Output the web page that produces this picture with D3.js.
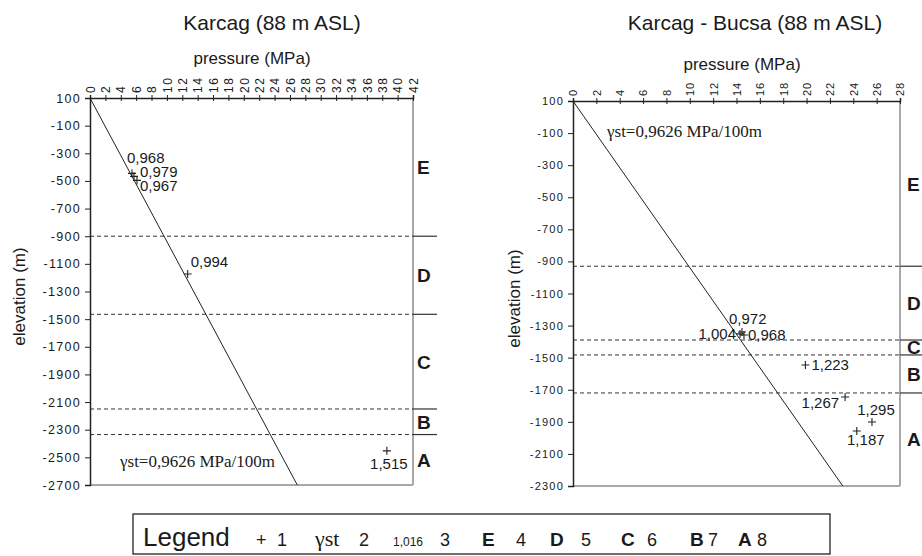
<!DOCTYPE html>
<html>
<head>
<meta charset="utf-8">
<script src="https://cdn.jsdelivr.net/npm/d3@7/dist/d3.min.js"></script>
<style>
  body { margin: 0; background: #fff; }
  text { font-family: Arial, "Liberation Sans", sans-serif; fill: #1a1a1a; }
</style>
</head>
<body>
<svg id="chart" width="922" height="556"></svg>
<script>
// ---- data ----
const gradient = 0.9626; // MPa / 100 m

const leftTitle = "Karcag (88 m ASL)";
const leftPressureMax = 42;
const leftElevTop = 100, leftElevBottom = -2700;
const leftBounds = [-900, -1465, -2150, -2335];
const leftZones = ["E", "D", "C", "B", "A"];
const leftPoints = [
  { p: 5.46, e: -445, label: "0,968" },
  { p: 5.72, e: -467, label: "0,979" },
  { p: 6.11, e: -496, label: "0,967" },
  { p: 12.7, e: -1173, label: "0,994" },
  { p: 38.6, e: -2453, label: "1,515" }
];

const rightTitle = "Karcag - Bucsa (88 m ASL)";
const rightPressureMax = 28;
const rightElevTop = 100, rightElevBottom = -2300;
const rightBounds = [-930, -1390, -1483, -1720];
const rightZones = ["E", "D", "C", "B", "A"];
const rightPoints = [
  { p: 14.3, e: -1352, label: "1,004" },
  { p: 14.47, e: -1340, label: "0,972" },
  { p: 14.64, e: -1359, label: "0,968" },
  { p: 19.9, e: -1546, label: "1,223" },
  { p: 23.3, e: -1745, label: "1,267" },
  { p: 25.6, e: -1901, label: "1,295" },
  { p: 24.3, e: -1957, label: "1,187" }
];

const legendSymbols = ["+", "γst", "1,016", "E", "D", "C", "B", "A"];
const legendNumbers = ["1", "2", "3", "4", "5", "6", "7", "8"];

// ---- label placement (layout only) ----
const leftLabelPos = [
  { dx: -5, dy: -10, anchor: "start" },
  { dx: 6, dy: 1, anchor: "start" },
  { dx: 3, dy: 11, anchor: "start" },
  { dx: 3, dy: -7, anchor: "start" },
  { dx: 2, dy: 18, anchor: "middle" }
];
const rightLabelPos = [
  { dx: -4, dy: 5, anchor: "end" },
  { dx: -13, dy: -8, anchor: "start" },
  { dx: 4, dy: 5, anchor: "start" },
  { dx: 6, dy: 5, anchor: "start" },
  { dx: -6, dy: 11, anchor: "end" },
  { dx: 4, dy: -7, anchor: "middle" },
  { dx: 9, dy: 14, anchor: "middle" }
];

const svg = d3.select("#chart");

function drawPanel(cfg) {
  const x = d3.scaleLinear().domain([0, cfg.pMax]).range(cfg.xr);
  const y = d3.scaleLinear().domain([cfg.eTop, cfg.eBottom]).range(cfg.yr);
  const g = svg.append("g");

  // titles
  g.append("text").attr("x", cfg.titleX).attr("y", 30)
    .attr("text-anchor", "middle").style("font-size", "21px").text(cfg.title);
  g.append("text").attr("x", cfg.pLabelX).attr("y", cfg.pLabelY)
    .attr("text-anchor", "middle").style("font-size", "17px").text("pressure (MPa)");
  g.append("text")
    .attr("transform", `translate(${cfg.eLabelX},${(cfg.yr[0] + cfg.yr[1]) / 2 + 5}) rotate(-90)`)
    .attr("text-anchor", "middle").style("font-size", "17px").text("elevation (m)");

  // frame (right + bottom in grey)
  g.append("line").attr("x1", cfg.xr[1]).attr("x2", cfg.xr[1])
    .attr("y1", cfg.yr[0]).attr("y2", cfg.yr[1])
    .attr("stroke", "#a8a8a8").attr("stroke-width", 2);
  g.append("line").attr("x1", cfg.xr[0]).attr("x2", cfg.xr[1])
    .attr("y1", cfg.yr[1]).attr("y2", cfg.yr[1])
    .attr("stroke", "#a8a8a8").attr("stroke-width", 2);

  // zone boundaries: dashed inside, solid outside the frame
  cfg.bounds.forEach(b => {
    g.append("line").attr("x1", cfg.xr[0]).attr("x2", cfg.xr[1])
      .attr("y1", y(b)).attr("y2", y(b))
      .attr("stroke", "#333").attr("stroke-width", 1).attr("stroke-dasharray", "4,3");
    g.append("line").attr("x1", cfg.xr[1]).attr("x2", cfg.zoneEnd)
      .attr("y1", y(b)).attr("y2", y(b))
      .attr("stroke", "#333").attr("stroke-width", 1.2);
  });

  // zone letters centred between boundaries
  const edges = [cfg.eTop, ...cfg.bounds, cfg.eBottom];
  cfg.zones.forEach((z, i) => {
    const ym = (y(edges[i]) + y(edges[i + 1])) / 2;
    g.append("text").attr("x", cfg.xr[1] + cfg.zoneDx).attr("y", ym + 7)
      .style("font-size", "19px").style("font-weight", "bold").text(z);
  });

  // gradient line
  const line = d3.line().x(d => x(d.p)).y(d => y(d.e));
  const gLine = [
    { e: cfg.eTop, p: 0 },
    { e: cfg.eBottom, p: gradient * (cfg.eTop - cfg.eBottom) / 100 }
  ];
  g.append("path").datum(gLine).attr("d", line)
    .attr("fill", "none").attr("stroke", "#222").attr("stroke-width", 1);

  g.append("text").attr("x", cfg.gLabel[0]).attr("y", cfg.gLabel[1])
    .style("font-family", "'Liberation Serif', 'Times New Roman', serif")
    .style("font-size", "17px").text("γst=0,9626 MPa/100m");

  // top axis
  const xAxis = d3.axisTop(x).tickValues(d3.range(0, cfg.pMax + 1, 2))
    .tickSize(3).tickFormat(d3.format("d"));
  const ax = g.append("g").attr("transform", `translate(0,${cfg.yr[0]})`).call(xAxis);
  ax.select(".domain").attr("stroke", "#222").attr("stroke-width", 1.5);
  ax.selectAll(".tick line").attr("y2", 3).attr("y1", -3).attr("stroke", "#222");
  ax.selectAll(".tick text")
    .attr("transform", "rotate(-90)").attr("x", 5).attr("y", 0).attr("dy", "0.35em")
    .attr("text-anchor", "start")
    .style("font-size", cfg.tickFont).style("letter-spacing", cfg.tickSpacing)
    .style("font-family", "Arial, 'Liberation Sans', sans-serif").attr("fill", "#1a1a1a");

  // left axis
  const yAxis = d3.axisLeft(y).tickValues(d3.range(cfg.eTop, cfg.eBottom - 1, -200))
    .tickSize(5).tickPadding(4).tickFormat(d3.format("d"));
  const ay = g.append("g").attr("transform", `translate(${cfg.xr[0]},0)`).call(yAxis);
  ay.select(".domain").attr("stroke", "#222").attr("stroke-width", 1.5);
  ay.selectAll(".tick line").attr("stroke", "#222");
  ay.selectAll(".tick text").text(d => String(d))
    .style("font-size", cfg.yTickFont).style("letter-spacing", cfg.yTickSpacing)
    .style("font-family", "Arial, 'Liberation Sans', sans-serif").attr("fill", "#1a1a1a");

  // data points as thin crosses
  const pts = g.selectAll("g.pt").data(cfg.points).enter().append("g")
    .attr("transform", d => `translate(${x(d.p)},${y(d.e)})`);
  pts.append("path").attr("d", "M-4,0H4M0,-4V4")
    .attr("stroke", "#222").attr("stroke-width", 1.1);
  pts.append("text")
    .attr("x", (d, i) => cfg.labelPos[i].dx).attr("y", (d, i) => cfg.labelPos[i].dy)
    .attr("text-anchor", (d, i) => cfg.labelPos[i].anchor)
    .style("font-size", "15px").text(d => d.label);
}

drawPanel({
  title: leftTitle, titleX: 272, pLabelX: 252, pLabelY: 64, eLabelX: 25,
  pMax: leftPressureMax, eTop: leftElevTop, eBottom: leftElevBottom,
  xr: [90, 413], yr: [98, 485], bounds: leftBounds, zones: leftZones,
  zoneEnd: 437, zoneDx: 4, points: leftPoints, labelPos: leftLabelPos,
  gLabel: [120, 467], tickFont: "12px", tickSpacing: "1.5px",
  yTickFont: "12.5px", yTickSpacing: "1.3px"
});

drawPanel({
  title: rightTitle, titleX: 755, pLabelX: 742, pLabelY: 70, eLabelX: 520,
  pMax: rightPressureMax, eTop: rightElevTop, eBottom: rightElevBottom,
  xr: [573, 900], yr: [101, 486], bounds: rightBounds, zones: rightZones,
  zoneEnd: 922, zoneDx: 7, points: rightPoints, labelPos: rightLabelPos,
  gLabel: [607, 137], tickFont: "11px", tickSpacing: "1px",
  yTickFont: "11px", yTickSpacing: "1.2px"
});

// ---- legend ----
const legendLayout = [
  { sx: 256, nx: 277 }, { sx: 315, nx: 359 }, { sx: 393, nx: 440 }, { sx: 482, nx: 516 },
  { sx: 550, nx: 581 }, { sx: 621, nx: 647 }, { sx: 690, nx: 708 }, { sx: 738, nx: 757 }
];
const lg = svg.append("g");
lg.append("rect").attr("x", 133).attr("y", 514).attr("width", 697).attr("height", 40)
  .attr("fill", "none").attr("stroke", "#222").attr("stroke-width", 1.3);
lg.append("text").attr("x", 143).attr("y", 546).style("font-size", "26px").text("Legend");
legendSymbols.forEach((s, i) => {
  const t = lg.append("text").attr("x", legendLayout[i].sx).attr("y", 546).text(s);
  if (i === 0) t.style("font-size", "18px");
  else if (i === 1) t.style("font-family", "'Liberation Serif', 'Times New Roman', serif").style("font-size", "22px");
  else if (i === 2) t.style("font-size", "12px");
  else t.style("font-size", "19px").style("font-weight", "bold");
  lg.append("text").attr("x", legendLayout[i].nx).attr("y", 546)
    .style("font-size", "18px").text(legendNumbers[i]);
});
</script>
</body>
</html>
